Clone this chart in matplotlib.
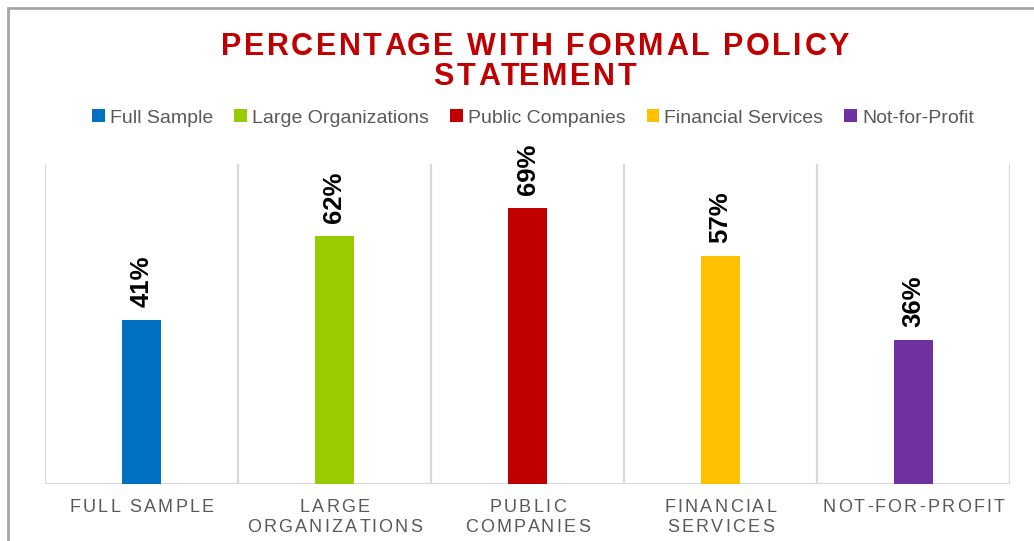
import matplotlib
matplotlib.use("Agg")
import matplotlib.pyplot as plt
from matplotlib.font_manager import FontProperties
from matplotlib.transforms import IdentityTransform, offset_copy
from matplotlib.patches import Rectangle, Patch

categories = ["Full Sample", "Large Organizations", "Public Companies",
              "Financial Services", "Not-for-Profit"]
tick_labels = [["FULL SAMPLE"], ["LARGE", "ORGANIZATIONS"], ["PUBLIC", "COMPANIES"],
               ["FINANCIAL", "SERVICES"], ["NOT-FOR-PROFIT"]]
values = [41, 62, 69, 57, 36]
colors = ["#0070C0", "#99CC00", "#C00000", "#FFC000", "#7030A0"]
title_lines = ["PERCENTAGE WITH FORMAL POLICY", "STATEMENT"]

W, H = 1034, 541
plt.rcParams['font.family'] = ['Liberation Sans', 'DejaVu Sans']
fig = plt.figure(figsize=(W / 100, H / 100), dpi=100)
renderer = fig.canvas.get_renderer()

ax = fig.add_axes([45 / W, 57 / H, 965 / W, 320 / H])
x = list(range(len(values)))
ax.bar(x, values, width=0.2, color=colors, zorder=3)
ax.set_xlim(-0.5, len(values) - 0.5)
ax.set_ylim(0, 80)
for s in ax.spines.values():
    s.set_visible(False)
ax.set_xticks([])
ax.set_yticks([])
grid_c = "#D9D9D9"
for b in range(len(values) + 1):
    ax.axvline(b - 0.5, color=grid_c, lw=1.6, zorder=1)
ax.axhline(0, color=grid_c, lw=1.6, zorder=2)

for xi, v in zip(x, values):
    tr = offset_copy(ax.transData, fig=fig, x=0, y=13, units='dots')
    ax.text(xi, v, f"{v}%", transform=tr, rotation=90, ha='center', va='bottom',
            fontsize=18.5, fontweight='bold', color='black')


def text_width(s, prop):
    w, h, d = renderer.get_text_width_height_descent(s + "|", prop, ismath=False)
    w0, _, _ = renderer.get_text_width_height_descent("|", prop, ismath=False)
    return w - w0


def spaced_text(s, cx, y, prop, spacing, color):
    total = text_width(s, prop) + (len(s) - 1) * spacing
    x0 = cx - total / 2
    for i, ch in enumerate(s):
        if ch == " ":
            continue
        xi = x0 + text_width(s[:i], prop) + i * spacing
        fig.text(xi, y, ch, transform=IdentityTransform(), fontproperties=prop,
                 color=color, ha='left', va='baseline')


title_prop = FontProperties(family='Liberation Sans', weight='bold', size=22)
spaced_text(title_lines[0], 535, H - 55, title_prop, 2.6, "#C00000")
spaced_text(title_lines[1], 535, H - 85, title_prop, 2.6, "#C00000")

tick_prop = FontProperties(family='Liberation Sans', size=13)
for xi, lines in zip(x, tick_labels):
    cx = ax.transData.transform((xi, 0))[0]
    for j, line in enumerate(lines):
        spaced_text(line, cx, H - 512 - 20 * j, tick_prop, 2.3, "#595959")

handles = [Patch(facecolor=c, edgecolor='none') for c in colors]
fig.legend(handles, categories, loc='center', bbox_to_anchor=(533 / W, (H - 118) / H),
           ncol=5, frameon=False, fontsize=14, handlelength=0.65, handleheight=0.65,
           handletextpad=0.25, columnspacing=1.1, labelcolor="#595959")

fig.patches.append(Rectangle((7.5, -20), 1100, H - 8 + 20, transform=IdentityTransform(),
                             fill=False, edgecolor="#A6A6A6", lw=2, figure=fig))

fig.savefig("out.png", dpi=100)
